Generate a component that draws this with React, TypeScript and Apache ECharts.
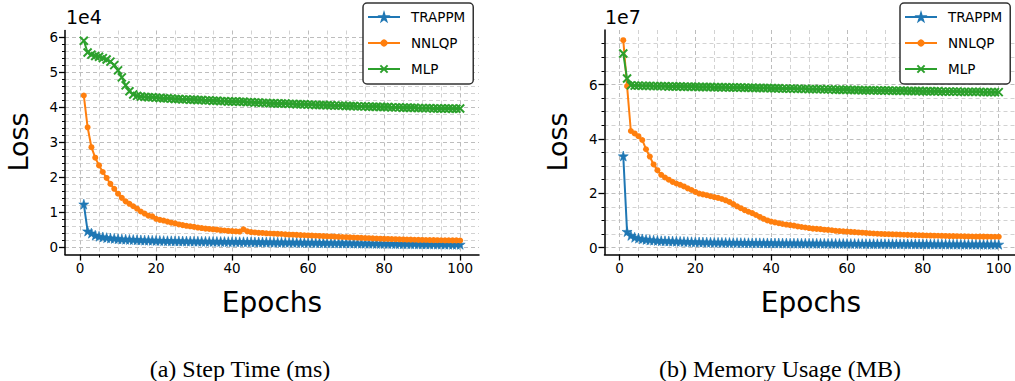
import React, { useEffect, useRef } from "react";
import * as echarts from "echarts";

const epochs = Array.from({ length: 100 }, (_, i) => i + 1);
const seriesNames = ["TRAPPM", "NNLQP", "MLP"];
const seriesColors = ["#1f77b4", "#ff7f0e", "#2ca02c"];

// (a) Step Time loss, in units of 1e4
const stepTrappm = [
  1.22, 0.45, 0.39, 0.33, 0.3, 0.28, 0.26, 0.25, 0.24, 0.23,
  0.22, 0.215, 0.21, 0.205, 0.2, 0.195, 0.19, 0.19, 0.185, 0.18,
  0.178, 0.175, 0.172, 0.17, 0.168, 0.166, 0.165, 0.163, 0.161, 0.16,
  0.158, 0.157, 0.155, 0.154, 0.152, 0.151, 0.15, 0.148, 0.147, 0.146,
  0.145, 0.143, 0.142, 0.141, 0.14, 0.138, 0.137, 0.136, 0.135, 0.133,
  0.132, 0.131, 0.13, 0.128, 0.127, 0.126, 0.124, 0.123, 0.122, 0.12,
  0.119, 0.118, 0.116, 0.115, 0.114, 0.112, 0.111, 0.11, 0.108, 0.107,
  0.106, 0.104, 0.103, 0.102, 0.1, 0.099, 0.098, 0.096, 0.095, 0.094,
  0.092, 0.091, 0.09, 0.088, 0.087, 0.086, 0.085, 0.083, 0.082, 0.081,
  0.08, 0.079, 0.078, 0.077, 0.076, 0.075, 0.074, 0.073, 0.072, 0.07,
];
const stepNnlqp = [
  4.33, 3.42, 2.85, 2.55, 2.33, 2.14, 1.97, 1.8, 1.66, 1.52,
  1.4, 1.3, 1.23, 1.16, 1.09, 1.01, 0.95, 0.89, 0.87, 0.8,
  0.77, 0.75, 0.72, 0.69, 0.67, 0.64, 0.62, 0.6, 0.585, 0.57,
  0.55, 0.535, 0.52, 0.51, 0.5, 0.49, 0.475, 0.465, 0.455, 0.45,
  0.44, 0.435, 0.5, 0.44, 0.42, 0.41, 0.4, 0.395, 0.385, 0.38,
  0.375, 0.37, 0.365, 0.355, 0.35, 0.345, 0.34, 0.335, 0.33, 0.325,
  0.32, 0.315, 0.31, 0.305, 0.3, 0.295, 0.29, 0.285, 0.28, 0.275,
  0.27, 0.265, 0.26, 0.255, 0.25, 0.245, 0.24, 0.236, 0.232, 0.228,
  0.224, 0.22, 0.216, 0.213, 0.21, 0.207, 0.204, 0.201, 0.198, 0.196,
  0.194, 0.192, 0.19, 0.188, 0.186, 0.185, 0.184, 0.183, 0.182, 0.18,
];
const stepMlp = [
  5.9, 5.56, 5.5, 5.46, 5.44, 5.4, 5.36, 5.3, 5.2, 5.05,
  4.85, 4.62, 4.45, 4.36, 4.32, 4.3, 4.29, 4.28, 4.28, 4.27,
  4.26, 4.25, 4.25, 4.24, 4.23, 4.23, 4.22, 4.22, 4.21, 4.21,
  4.2, 4.2, 4.19, 4.19, 4.18, 4.18, 4.17, 4.17, 4.16, 4.16,
  4.16, 4.15, 4.15, 4.14, 4.14, 4.13, 4.13, 4.12, 4.12, 4.11,
  4.11, 4.1, 4.1, 4.1, 4.09, 4.09, 4.08, 4.08, 4.08, 4.07,
  4.07, 4.06, 4.06, 4.06, 4.05, 4.05, 4.04, 4.04, 4.04, 4.03,
  4.03, 4.03, 4.02, 4.02, 4.02, 4.01, 4.01, 4.01, 4.0, 4.0,
  4.0, 3.99, 3.99, 3.99, 3.98, 3.98, 3.98, 3.98, 3.97, 3.97,
  3.97, 3.97, 3.96, 3.96, 3.96, 3.96, 3.96, 3.95, 3.95, 3.96,
];

// (b) Memory Usage loss, in units of 1e7
const memTrappm = [
  3.37, 0.59, 0.45, 0.38, 0.35, 0.32, 0.3, 0.285, 0.275, 0.265,
  0.255, 0.25, 0.245, 0.24, 0.235, 0.23, 0.225, 0.22, 0.215, 0.21,
  0.207, 0.204, 0.201, 0.198, 0.196, 0.194, 0.192, 0.19, 0.188, 0.186,
  0.184, 0.182, 0.181, 0.179, 0.178, 0.176, 0.175, 0.174, 0.172, 0.171,
  0.17, 0.169, 0.168, 0.167, 0.166, 0.165, 0.164, 0.163, 0.162, 0.161,
  0.16, 0.159, 0.158, 0.157, 0.156, 0.155, 0.154, 0.153, 0.152, 0.151,
  0.15, 0.149, 0.148, 0.147, 0.146, 0.145, 0.145, 0.144, 0.143, 0.142,
  0.141, 0.14, 0.14, 0.139, 0.138, 0.137, 0.137, 0.136, 0.135, 0.134,
  0.134, 0.133, 0.132, 0.132, 0.131, 0.13, 0.13, 0.129, 0.128, 0.128,
  0.127, 0.127, 0.126, 0.126, 0.125, 0.125, 0.124, 0.124, 0.123, 0.123,
];
const memNnlqp = [
  7.63, 5.94, 4.29, 4.2, 4.1, 3.96, 3.62, 3.35, 3.06, 2.85,
  2.68, 2.58, 2.5, 2.42, 2.36, 2.31, 2.25, 2.18, 2.12, 2.05,
  1.99, 1.96, 1.93, 1.89, 1.86, 1.83, 1.79, 1.74, 1.68, 1.6,
  1.52, 1.45, 1.38, 1.32, 1.27, 1.2, 1.13, 1.06, 1.0, 0.96,
  0.93, 0.9, 0.87, 0.85, 0.83, 0.81, 0.78, 0.76, 0.74, 0.72,
  0.7, 0.69, 0.68, 0.66, 0.65, 0.64, 0.62, 0.61, 0.6, 0.59,
  0.58, 0.57, 0.56, 0.55, 0.54, 0.53, 0.52, 0.51, 0.505, 0.5,
  0.495, 0.49, 0.485, 0.48, 0.475, 0.47, 0.465, 0.46, 0.455, 0.45,
  0.447, 0.444, 0.44, 0.437, 0.434, 0.43, 0.427, 0.424, 0.42, 0.418,
  0.415, 0.413, 0.41, 0.408, 0.406, 0.404, 0.402, 0.4, 0.4, 0.4,
];
const memMlp = [
  7.14, 6.22, 5.97, 5.96, 5.96, 5.95, 5.95, 5.95, 5.94, 5.94,
  5.94, 5.94, 5.93, 5.93, 5.93, 5.93, 5.92, 5.92, 5.92, 5.92,
  5.91, 5.91, 5.91, 5.91, 5.9, 5.9, 5.9, 5.9, 5.89, 5.89,
  5.89, 5.89, 5.88, 5.88, 5.88, 5.87, 5.87, 5.87, 5.87, 5.86,
  5.86, 5.86, 5.85, 5.85, 5.85, 5.85, 5.84, 5.84, 5.84, 5.83,
  5.83, 5.83, 5.83, 5.82, 5.82, 5.82, 5.81, 5.81, 5.81, 5.81,
  5.8, 5.8, 5.8, 5.79, 5.79, 5.79, 5.79, 5.78, 5.78, 5.78,
  5.78, 5.77, 5.77, 5.77, 5.77, 5.76, 5.76, 5.76, 5.76, 5.75,
  5.75, 5.75, 5.75, 5.75, 5.74, 5.74, 5.74, 5.74, 5.74, 5.73,
  5.73, 5.73, 5.73, 5.73, 5.73, 5.72, 5.72, 5.72, 5.72, 5.72,
];

const epochMajorTicks = [0, 20, 40, 60, 80, 100];
const epochMinorTicks = [5, 10, 15, 25, 30, 35, 45, 50, 55, 65, 70, 75, 85, 90, 95];
const stepMajorTicks = [0, 1, 2, 3, 4, 5, 6];
const stepMinorTicks = [
  0.2, 0.4, 0.6, 0.8, 1.2, 1.4, 1.6, 1.8, 2.2, 2.4, 2.6, 2.8,
  3.2, 3.4, 3.6, 3.8, 4.2, 4.4, 4.6, 4.8, 5.2, 5.4, 5.6, 5.8,
];
const memMajorTicks = [0, 2, 4, 6];
const memMinorTicks = [0.5, 1, 1.5, 2.5, 3, 3.5, 4.5, 5, 5.5, 6.5, 7, 7.5];

const offsetLabels = ["1e4", "1e7"];
const captions = ["(a) Step Time (ms)", "(b) Memory Usage (MB)"];
const xTitle = "Epochs";
const yTitle = "Loss";

const FONT = "DejaVu Sans";
const STAR = "path://M50,0 L61,35 L98,35 L68,57 L79,91 L50,70 L21,91 L32,57 L2,35 L39,35 Z";
const CROSS = "path://M0,0 L10,10 M10,0 L0,10";

function padded(values: number[]) {
  const lo = Math.min(...values);
  const hi = Math.max(...values);
  const m = (hi - lo) * 0.05;
  return [lo - m, hi + m];
}

function axisPair(gridIndex: number, isX: boolean, range: number[], majors: number[], minors: number[]) {
  const position = isX ? "bottom" : "left";
  const major = {
    type: "value",
    gridIndex,
    position,
    min: range[0],
    max: range[1],
    axisLine: { show: true, onZero: false, lineStyle: { color: "#000", width: 1.5 } },
    axisTick: { show: true, customValues: majors, length: 6, lineStyle: { color: "#000", width: 1.3 } },
    axisLabel: {
      show: true,
      customValues: majors,
      formatter: (v: number) => String(v),
      color: "#000",
      fontSize: 13.5,
      fontFamily: FONT,
      margin: isX ? 6 : 7,
    },
    splitLine: { show: true, lineStyle: { color: "#bdbdbd", type: [4, 3], width: 1 } },
    minorTick: { show: false },
    minorSplitLine: { show: false },
  };
  const minor = {
    type: "value",
    gridIndex,
    position,
    min: range[0],
    max: range[1],
    axisLine: { show: false, onZero: false },
    axisTick: { show: true, customValues: minors, length: 3, lineStyle: { color: "#000", width: 1 } },
    axisLabel: { show: false },
    splitLine: { show: true, lineStyle: { color: "#d2d2d2", type: [4, 3], width: 1 } },
    minorTick: { show: false },
    minorSplitLine: { show: false },
  };
  return [major, minor];
}

function makeSeries(gridIndex: number, sets: number[][]) {
  const symbols = [STAR, "circle", CROSS];
  const sizes = [10, 6, 8];
  const borders = [0.6, 0, 2];
  return sets.map((vals, k) => ({
    type: "line",
    name: seriesNames[k],
    xAxisIndex: gridIndex * 2,
    yAxisIndex: gridIndex * 2,
    data: epochs.map((e, i) => [e, vals[i]]),
    symbol: symbols[k],
    symbolSize: sizes[k],
    showSymbol: true,
    lineStyle: { color: seriesColors[k], width: 2 },
    itemStyle: { color: seriesColors[k], borderColor: seriesColors[k], borderWidth: borders[k] },
    emphasis: { disabled: true },
    z: 3 + k,
  }));
}

export default function App() {
  const ref = useRef<HTMLDivElement>(null);
  useEffect(() => {
    if (!ref.current) return;
    const chart = echarts.init(ref.current, undefined, { renderer: "svg" });
    const xRange = padded(epochs);
    const stepRange = padded([...stepTrappm, ...stepNnlqp, ...stepMlp]);
    const memRange = padded([...memTrappm, ...memNnlqp, ...memMlp]);
    const xAxes = [
      ...axisPair(0, true, xRange, epochMajorTicks, epochMinorTicks),
      ...axisPair(1, true, xRange, epochMajorTicks, epochMinorTicks),
    ];
    const yAxes = [
      ...axisPair(0, false, stepRange, stepMajorTicks, stepMinorTicks),
      ...axisPair(1, false, memRange, memMajorTicks, memMinorTicks),
    ];
    const legendBase = {
      orient: "vertical",
      top: 3,
      data: seriesNames,
      itemWidth: 32,
      itemHeight: 9,
      itemGap: 12,
      padding: [7, 8, 8, 4],
      backgroundColor: "#fff",
      borderColor: "#333",
      borderWidth: 1.5,
      borderRadius: 4,
      selectedMode: false,
      textStyle: { color: "#000", fontSize: 13.5, fontFamily: FONT, padding: [0, 0, 0, 6] },
    };
    const textEl = (text: string, x: number, y: number, size: number, family: string, align = "center", rotation = 0) => ({
      type: "text",
      x,
      y,
      rotation,
      silent: true,
      style: { text, fill: "#000", fontSize: size, fontFamily: family, align, verticalAlign: "middle" },
    });
    chart.setOption({
      animation: false,
      backgroundColor: "#fff",
      grid: [
        { left: 65, top: 30.5, width: 414, height: 224, containLabel: false, outerBoundsMode: "none" },
        { left: 604.5, top: 30, width: 413, height: 224.5, containLabel: false, outerBoundsMode: "none" },
      ],
      xAxis: xAxes,
      yAxis: yAxes,
      legend: [
        { ...legendBase, left: 363 },
        { ...legendBase, left: 900 },
      ],
      series: [
        ...makeSeries(0, [stepTrappm, stepNnlqp, stepMlp]),
        ...makeSeries(1, [memTrappm, memNnlqp, memMlp]),
      ],
      graphic: [
        textEl(offsetLabels[0], 66, 17, 19, FONT, "left"),
        textEl(offsetLabels[1], 605, 17, 19, FONT, "left"),
        textEl(yTitle, 18, 142, 27, FONT, "center", Math.PI / 2),
        textEl(yTitle, 557, 142, 27, FONT, "center", Math.PI / 2),
        textEl(xTitle, 272, 302, 28, FONT),
        textEl(xTitle, 811, 302, 28, FONT),
        textEl(captions[0], 240, 369, 24, "Liberation Serif"),
        textEl(captions[1], 780, 369, 24, "Liberation Serif"),
      ],
    });
    return () => chart.dispose();
  }, []);
  return (
    <div
      ref={ref}
      style={{ position: "fixed", left: 0, top: 0, width: 1015, height: 381, background: "#fff" }}
    />
  );
}
